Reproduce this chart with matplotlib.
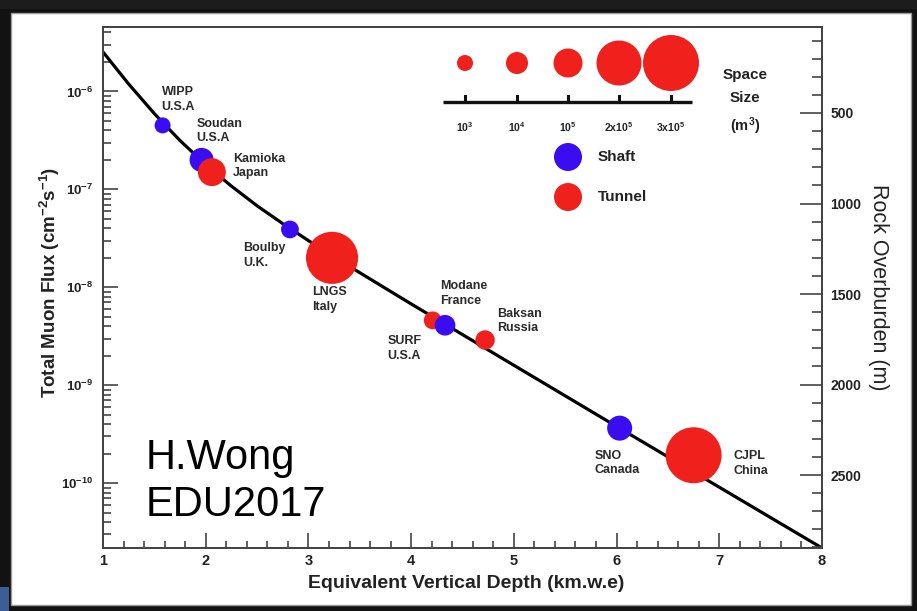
import numpy as np
import matplotlib
matplotlib.use('Agg')
import matplotlib.pyplot as plt
from matplotlib.patches import Rectangle
from matplotlib.ticker import (LogLocator, FuncFormatter, NullFormatter,
                               MultipleLocator, FixedLocator)

plt.rcParams['font.family'] = ['Liberation Sans', 'DejaVu Sans']
plt.rcParams['mathtext.fontset'] = 'custom'
plt.rcParams['mathtext.rm'] = 'Liberation Sans'
plt.rcParams['mathtext.bf'] = 'Liberation Sans:bold'
plt.rcParams['mathtext.it'] = 'Liberation Sans:italic'

# ---------------- data ----------------
curve_depth = [1.0, 1.25, 1.5, 1.75, 2.0, 2.25, 2.5, 2.75, 3.0, 3.5, 4.0, 5.0,
               6.0, 7.0, 8.0]
curve_flux = [2.53e-6, 1.19e-6, 5.94e-7, 3.15e-7, 1.79e-7, 1.08e-7, 6.8e-8,
              4.47e-8, 3.0e-8, 1.41e-8, 6.77e-9, 1.6e-9, 3.8e-10, 9.1e-11,
              2.18e-11]

lab_names = ['WIPP\nU.S.A', 'Soudan\nU.S.A', 'Kamioka\nJapan', 'Boulby\nU.K.',
             'LNGS\nItaly', 'SURF\nU.S.A', 'Modane\nFrance', 'Baksan\nRussia',
             'SNO\nCanada', 'CJPL\nChina']
lab_depth = [1.58, 1.96, 2.06, 2.82, 3.23, 4.21, 4.33, 4.72, 6.03, 6.75]
lab_flux = [4.5e-7, 2.0e-7, 1.5e-7, 3.9e-8, 2.0e-8, 4.6e-9, 4.1e-9, 2.9e-9,
            3.65e-10, 1.93e-10]
lab_type = ['Shaft', 'Shaft', 'Tunnel', 'Shaft', 'Tunnel', 'Tunnel', 'Shaft',
            'Tunnel', 'Shaft', 'Tunnel']
lab_space = [1e3, 2e4, 7e4, 2e3, 2.6e5, 2e3, 6e3, 3.7e3, 2.7e4, 3e5]

size_ref = [1e3, 1e4, 1e5, 2e5, 3e5]
size_ref_labels = [r'$\mathbf{10^3}$', r'$\mathbf{10^4}$', r'$\mathbf{10^5}$',
                   r'$\mathbf{2x10^5}$', r'$\mathbf{3x10^5}$']
type_names = ['Shaft', 'Tunnel']

x_ticks = [1, 2, 3, 4, 5, 6, 7, 8]
flux_ticks = [1e-10, 1e-9, 1e-8, 1e-7, 1e-6]
overburden_ticks = [500, 1000, 1500, 2000, 2500]

# ---------------- styling ----------------
W, H = 917, 611
RED = '#f0201c'
BLUE = '#3a0cf0'
colors = {'Shaft': BLUE, 'Tunnel': RED}
ref_radii = [8, 11, 14.5, 22.5, 28]  # pixel radius of the legend circles


def radius(space):
    return np.interp(np.log10(space), np.log10(size_ref), ref_radii)


def s_of(r):
    return (2 * r * 72 / 100) ** 2


fig = plt.figure(figsize=(W / 100, H / 100), dpi=100, facecolor='#121212')
fig.patches.append(Rectangle((0, 1 - 9 / H), 1, 9 / H, transform=fig.transFigure,
                             facecolor='#1c1c1c', edgecolor='none', zorder=-2))
fig.patches.append(Rectangle((11 / W, 1 - 605 / H), 900 / W, 592 / H,
                             transform=fig.transFigure, facecolor='white',
                             edgecolor='#9a9a9a', lw=1, zorder=-2))
fig.patches.append(Rectangle((0, 0), 9 / W, 24 / H, transform=fig.transFigure,
                             facecolor='#3a5e95', edgecolor='none', zorder=-2))

L, R, T, B = 103, 822, 27, 548
ax = fig.add_axes([L / W, 1 - B / H, (R - L) / W, (B - T) / H])
ax.set_facecolor('none')
ax.set_yscale('log')
ax.set_xlim(1, 8)
ax.set_ylim(2.18e-11, 4.55e-6)

ax.plot(curve_depth, curve_flux, color='black', lw=2.3, zorder=2,
        solid_capstyle='butt', solid_joinstyle='round')

for name, d, f, t, sp in zip(lab_names, lab_depth, lab_flux, lab_type, lab_space):
    ax.scatter([d], [f], s=s_of(radius(sp)), color=colors[t], edgecolors='none',
               zorder=3)

offsets = [(-1, 26), (-5, 29), (21, 6), (-47, -26), (-20, -42), (-45, -28),
           (-5, 32), (12, 19), (-25, -35), (40, -8)]
for name, d, f, (dx, dy) in zip(lab_names, lab_depth, lab_flux, offsets):
    ax.annotate(name, (d, f), xytext=(dx, dy), textcoords='offset pixels',
                ha='left', va='center', fontsize=9, fontweight='bold',
                color='#2a2a2a', linespacing=1.3, zorder=4)

# axes ticks
ax.set_xticks(x_ticks)
ax.xaxis.set_minor_locator(MultipleLocator(0.2))
ax.yaxis.set_major_locator(FixedLocator(flux_ticks))
ax.yaxis.set_minor_locator(LogLocator(base=10, subs=np.arange(2, 10), numticks=20))
ax.yaxis.set_minor_formatter(NullFormatter())
ax.yaxis.set_major_formatter(FuncFormatter(
    lambda v, p: r'$\mathbf{10^{%d}}$' % int(round(np.log10(v)))))
ax.tick_params(which='both', direction='in', top=False, right=False,
               color='#444444', width=1.2)
ax.tick_params(axis='x', which='major', length=11, pad=4, labelsize=10.5)
ax.tick_params(axis='x', which='minor', length=5)
ax.tick_params(axis='y', which='major', length=11, pad=7, labelsize=9.5)
ax.tick_params(axis='y', which='minor', length=6)
for lab in ax.get_xticklabels():
    lab.set_fontweight('bold')
    lab.set_color('#222222')
for lab in ax.get_yticklabels():
    lab.set_color('#222222')
for sp in ax.spines.values():
    sp.set_color('#444444')
    sp.set_linewidth(1.4)

ax2 = ax.twinx()
ax2.set_ylim(2903, 25)
ax2.set_yticks(overburden_ticks)
ax2.yaxis.set_minor_locator(MultipleLocator(100))
ax2.tick_params(which='both', direction='in', left=False, right=True,
                color='#444444', width=1.2)
ax2.tick_params(which='major', length=16, pad=6, labelsize=10)
ax2.tick_params(which='minor', length=7)
for lab in ax2.get_yticklabels():
    lab.set_fontweight('bold')
    lab.set_color('#222222')
for sp in ax2.spines.values():
    sp.set_color('#444444')
    sp.set_linewidth(1.4)

# axis titles
fig.text(466 / W, 1 - 584 / H, 'Equivalent Vertical Depth (km.w.e)', ha='center',
         va='center', fontsize=14, fontweight='bold', color='#222222')
fig.text(50 / W, 1 - 282 / H, r'Total Muon Flux (cm$^{\mathbf{-2}}$s$^{\mathbf{-1}}$)',
         ha='center', va='center', rotation=90, fontsize=13.5, fontweight='bold',
         color='#222222')
fig.text(878 / W, 1 - 287 / H, 'Rock Overburden (m)', ha='center', va='center',
         rotation=270, fontsize=15.5, color='#222222')

# overlay in pixel coordinates for legend and watermark
ov = fig.add_axes([0, 0, 1, 1], zorder=5)
ov.set_xlim(0, W)
ov.set_ylim(H, 0)
ov.axis('off')
ov.patch.set_alpha(0)

leg_x = [465, 517, 568, 619, 671]
ov.plot([443, 692], [102, 102], color='#111111', lw=2.4, solid_capstyle='butt')
for x, sz, lbl in zip(leg_x, size_ref, size_ref_labels):
    ov.scatter([x], [63], s=s_of(radius(sz)), color=RED, edgecolors='none')
    ov.plot([x, x], [96, 102], color='#111111', lw=2.2)
    ov.text(x, 127, lbl, ha='center', va='center', fontsize=7.5, color='#222222')
ov.text(745, 75, 'Space', ha='center', va='center', fontsize=11,
        fontweight='bold', color='#222222')
ov.text(745, 98, 'Size', ha='center', va='center', fontsize=11,
        fontweight='bold', color='#222222')
ov.text(745, 126, r'(m$^{\mathbf{3}}$)', ha='center', va='center', fontsize=10.5,
        fontweight='bold', color='#222222')
for yy, tn in zip([157, 197], type_names):
    ov.scatter([568], [yy], s=s_of(14), color=colors[tn], edgecolors='none')
    ov.text(598, yy, tn, ha='left', va='center', fontsize=11, fontweight='bold',
            color='#222222')

ov.text(146, 458, 'H.Wong', ha='left', va='center', fontsize=30, color='black')
ov.text(146, 505, 'EDU2017', ha='left', va='center', fontsize=30, color='black')

fig.savefig('out.png', dpi=100, facecolor=fig.get_facecolor())
